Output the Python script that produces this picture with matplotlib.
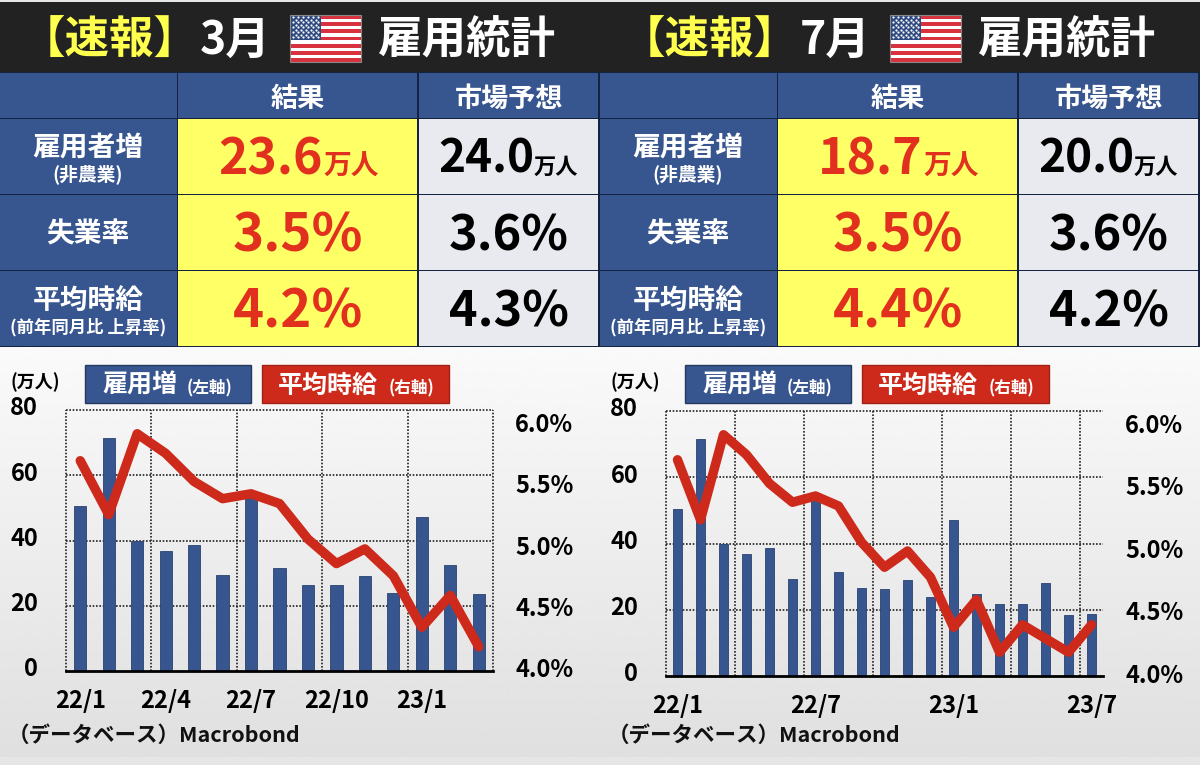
import numpy as np
import matplotlib
matplotlib.use("Agg")
import matplotlib.pyplot as plt
from matplotlib.patches import Rectangle
from matplotlib.transforms import ScaledTranslation

plt.rcParams['font.family'] = ['Noto Sans CJK JP', 'DejaVu Sans']

# left panel data (22/1 - 23/3)
jobs_left = [50.5, 71.4, 39.9, 36.8, 38.7, 29.4, 53.7, 31.6, 26.5, 26.3, 29.0, 23.9, 47.3, 32.6, 23.6]
wage_left = [5.69, 5.25, 5.91, 5.75, 5.52, 5.38, 5.42, 5.34, 5.05, 4.85, 4.97, 4.75, 4.33, 4.59, 4.17]
ticks_left = [0, 3, 6, 9, 12]
labels_left = ["22/1", "22/4", "22/7", "22/10", "23/1"]

# right panel data (22/1 - 23/7)
jobs_right = [50.4, 71.4, 39.9, 36.8, 38.6, 29.2, 53.1, 31.4, 26.5, 26.2, 28.9, 23.8, 47.2, 24.7, 21.7, 21.7, 28.0, 18.4, 18.7]
wage_right = [5.71, 5.23, 5.91, 5.75, 5.52, 5.37, 5.42, 5.34, 5.05, 4.85, 4.98, 4.77, 4.37, 4.59, 4.17, 4.39, 4.28, 4.17, 4.39]
ticks_right = [0, 6, 12, 18]
labels_right = ["22/1", "22/7", "23/1", "23/7"]

# table text
months = ["3月", "7月"]
job_result = ["23.6", "18.7"]
job_forecast = ["24.0", "20.0"]
unemp_result = ["3.5%", "3.5%"]
unemp_forecast = ["3.6%", "3.6%"]
wage_result = ["4.2%", "4.4%"]
wage_forecast = ["4.3%", "4.2%"]

jobs_ticks = [0, 20, 40, 60, 80]
wage_ticks = [4.0, 4.5, 5.0, 5.5, 6.0]

BLUE = "#37558f"
RED = "#cd2a1c"
TXT_RED = "#e2301f"
YELLOW = "#ffff66"
GREY = "#e8eaef"
DARK = "#222222"
LINE = "#14233f"
DOTS = (0, (1, 1))

W, H = 1200, 765
fig = plt.figure(figsize=(W / 100, H / 100), dpi=100, facecolor="#e6e6e6")

# overlay in pixel coordinates for the table part
bg = fig.add_axes([0, 0, 1, 1], zorder=0)
bg.set_xlim(0, W)
bg.set_ylim(H, 0)
bg.axis("off")

shade = np.linspace(0, 1, 200).reshape(-1, 1)
bg.imshow(shade, extent=[0, W, 757, 347], aspect="auto", cmap="gray_r", vmin=-0.2, vmax=9.5, zorder=0)
bg.set_xlim(0, W)
bg.set_ylim(H, 0)


def box(x0, y0, x1, y1, color, edge=None, lw=0):
    bg.add_patch(Rectangle((x0, y0), x1 - x0, y1 - y0, facecolor=color, edgecolor=edge, linewidth=lw, zorder=1))


# the font sits a little high, so y is moved down by 2.5 px
def txt(x, y, s, size, color="black", ha="center"):
    bg.text(x, y + 2.5, s, fontsize=size, color=color, ha=ha, va="center", fontweight="bold", zorder=3)


def flag(x0, y0, x1, y1):
    box(x0, y0, x1, y1, "white")
    h = (y1 - y0) / 13
    for i in range(0, 13, 2):
        box(x0, y0 + i * h, x1, y0 + (i + 1) * h, "#d8323f")
    box(x0, y0, x0 + (x1 - x0) * 0.44, y0 + 7 * h, "#2f4a80")
    sx = []
    sy = []
    for r in range(9):
        n = 6 if r % 2 == 0 else 5
        for c in range(n):
            sx.append(x0 + (c + 0.6 + (0 if r % 2 == 0 else 0.5)) * (x1 - x0) * 0.44 / 6.2)
            sy.append(y0 + (r + 0.8) * 7 * h / 10)
    bg.scatter(sx, sy, s=2.5, color="white", linewidths=0, zorder=2)
    bg.add_patch(Rectangle((x0, y0), x1 - x0, y1 - y0, fill=False, edgecolor="#888888", linewidth=0.8, zorder=2))


def draw_table(off, i):
    # title strip
    box(off, 2, off + 600, 72, DARK)
    txt(off + 110, 38, "【速報】", 32, "#ffff4d")
    txt(off + 235, 38, months[i], 32, "white")
    flag(off + 290, 15, off + 361, 62)
    txt(off + 467, 38, "雇用統計", 32, "white")

    # dark backing shows through as the cell borders
    box(off, 72, off + 600, 347, LINE)
    cols = [(0, 177), (178, 417), (419, 598)]
    rows = [(73, 118), (119, 194), (195, 270), (271, 346)]
    for r, (y0, y1) in enumerate(rows):
        for c, (x0, x1) in enumerate(cols):
            if c == 0 or r == 0:
                col = BLUE
            elif c == 1:
                col = YELLOW
            else:
                col = GREY
            box(off + x0, y0, off + x1, y1, col)

    txt(off + 298, 96, "結果", 19.5, "white")
    txt(off + 509, 96, "市場予想", 19.5, "white")

    txt(off + 88, 146, "雇用者増", 20, "white")
    txt(off + 88, 172, "(非農業)", 13.5, "white")
    txt(off + 88, 232, "失業率", 20, "white")
    txt(off + 88, 298, "平均時給", 20, "white")
    txt(off + 88, 325, "(前年同月比 上昇率)", 12.5, "white")

    # numbers with a smaller unit next to them
    txt(off + 323, 157, job_result[i], 36, TXT_RED, ha="right")
    txt(off + 323, 164, "万人", 20, TXT_RED, ha="left")
    txt(off + 534, 157, job_forecast[i], 33, "black", ha="right")
    txt(off + 534, 165, "万人", 16, "black", ha="left")

    txt(off + 298, 233, unemp_result[i], 38, TXT_RED)
    txt(off + 509, 233, unemp_forecast[i], 35, "black")
    txt(off + 298, 309, wage_result[i], 38, TXT_RED)
    txt(off + 509, 309, wage_forecast[i], 35, "black")

    # legend boxes above the chart
    box(off + 85, 365, off + 251, 403, BLUE, "#25395f", 1)
    txt(off + 140, 383, "雇用増", 18, "white")
    txt(off + 210, 386, "(左軸)", 12, "white")
    box(off + 262, 365, off + 449, 403, RED, "#a32015", 1)
    txt(off + 328, 383, "平均時給", 18, "white")
    txt(off + 411, 386, "(右軸)", 12, "white")
    txt(off + 35, 380, "(万人)", 13, "black")
    txt(off + 8, 733, "（データベース）Macrobond", 15.5, "#111111", ha="left")


def draw_chart(x0, x1, y0, y1, jobs, wage, ticks, labels, wlim, last_line):
    rect = [x0 / W, 1 - y1 / H, (x1 - x0) / W, (y1 - y0) / H]
    ax = fig.add_axes(rect, zorder=1)
    ax.patch.set_alpha(0)
    n = len(jobs)
    xs = np.arange(n)

    for yv in jobs_ticks[1:]:
        ax.axhline(yv, color="#222222", ls=DOTS, lw=1.2, zorder=1, clip_on=False)
    for xv in np.arange(-0.5, last_line + 0.1, 3):
        ax.axvline(xv, color="#222222", ls=DOTS, lw=1.2, zorder=1, clip_on=False)

    ax.bar(xs, jobs, width=0.43, color=BLUE, edgecolor="#2a4270", linewidth=0.6, zorder=2)
    ax.set_xlim(-0.5, n - 0.5)
    ax.set_ylim(0, 80)
    ax.set_yticks(jobs_ticks)
    ax.set_xticks(ticks)
    ax.set_xticklabels(labels)
    ax.tick_params(axis="y", length=0, pad=20, labelsize=17)
    ax.tick_params(axis="x", length=0, pad=13, labelsize=17)
    up = ScaledTranslation(0, 3 / 72, fig.dpi_scale_trans)
    for t in ax.get_yticklabels():
        t.set_fontweight("bold")
        t.set_transform(t.get_transform() + up)
    for t in ax.get_xticklabels():
        t.set_fontweight("bold")
    for s in ["top", "left", "right"]:
        ax.spines[s].set_visible(False)
    ax.spines["bottom"].set_linewidth(2)
    ax.spines["bottom"].set_zorder(5)

    ax2 = ax.twinx()
    ax2.patch.set_alpha(0)
    ax2.plot(xs, wage, color=RED, lw=6.8, solid_joinstyle="round", solid_capstyle="round", zorder=4)
    ax2.set_ylim(*wlim)
    ax2.set_yticks(wage_ticks)
    ax2.set_yticklabels(["%.1f%%" % v for v in wage_ticks])
    ax2.tick_params(axis="y", length=0, pad=16, labelsize=17)
    for t in ax2.get_yticklabels():
        t.set_fontweight("bold")
    for s in ax2.spines.values():
        s.set_visible(False)


draw_table(0, 0)
draw_table(600, 1)

draw_chart(66, 493, 410, 671, jobs_left, wage_left, ticks_left, labels_left, (3.973, 6.104), 14.5)
draw_chart(666, 1103, 411, 676, jobs_right, wage_right, ticks_right, labels_right, (3.98, 6.10), 17.5)

fig.savefig("out.png", dpi=100)
